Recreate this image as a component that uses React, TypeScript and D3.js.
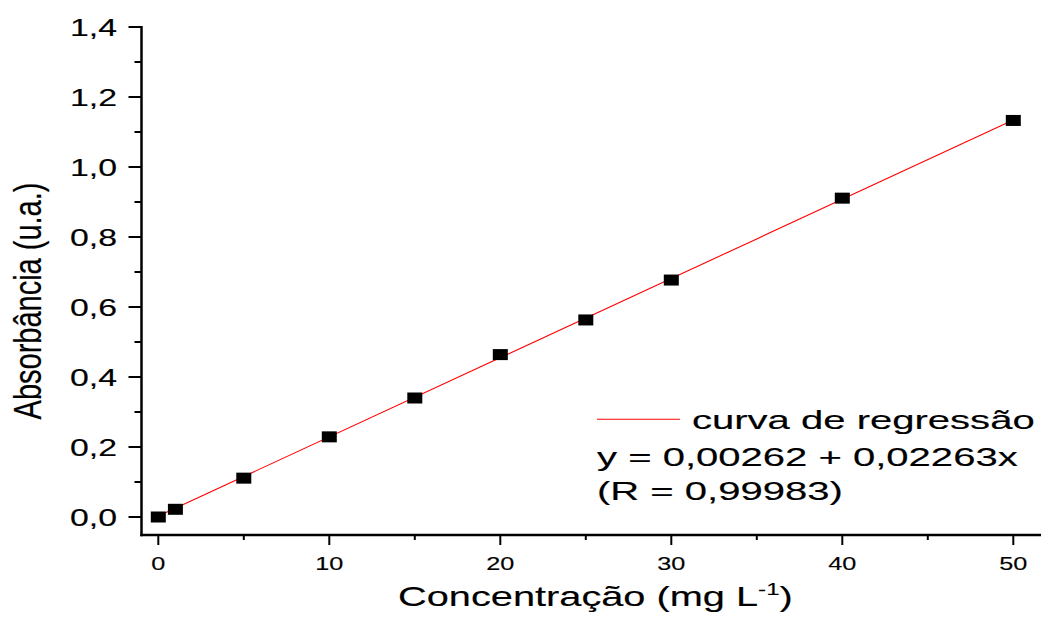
import React from 'react';
import * as d3 from 'd3';

// calibration data
const concentrations = [0, 1, 5, 10, 15, 20, 25, 30, 40, 50];
const absorbances = [0.0, 0.022, 0.111, 0.229, 0.34, 0.464, 0.563, 0.677, 0.911, 1.133];

// regression line end points (y = 0,00262 + 0,02263x)
const fitX = [0, 50];
const fitY = [0.00262, 1.13412];

const legendLines = ['y = 0,00262 + 0,02263x', '(R = 0,99983)'];
const legendLabel = 'curva de regressão';

const width = 1041;
const height = 623;
const font = '"Liberation Sans", Arial, sans-serif';

const axisLeft = 141.5;
const axisBottom = 535;
const axisTop = 27;

const commaFormat = d3.formatLocale({ decimal: ',', thousands: '.', grouping: [3], currency: ['', ''] }).format('.1f');

const x = d3.scaleLinear().domain([0, 50]).range([158.3, 1013.3]);
const y = d3.scaleLinear().domain([0, 1.4]).range([517, 27]);

const App = () => {
	const xMajor = x.ticks(5);
	const xMinor = x.ticks(10).filter((t) => !xMajor.includes(t));
	const yMajor = y.ticks(7);
	const yMinor = y.ticks(14).filter((t) => !yMajor.some((m) => Math.abs(m - t) < 1e-9));

	const line = d3.line<number>()
		.x((d, i) => x(fitX[i]))
		.y((d) => y(d));

	return (
		<svg width={width} height={height}
			style={{ position: 'absolute', left: 0, top: 0, background: '#fff' }}
			fontFamily={font}>

			{/* axes */}
			<g stroke="#000" strokeWidth={2.5}>
				<line x1={axisLeft} y1={axisTop - 1} x2={axisLeft} y2={axisBottom + 1.2} />
				<line x1={axisLeft - 1.2} y1={axisBottom} x2={width} y2={axisBottom} />
			</g>
			<g stroke="#000" strokeWidth={2}>
				{yMajor.map((t) => (
					<line key={`ym${t}`} x1={axisLeft - 13} x2={axisLeft} y1={y(t)} y2={y(t)} />
				))}
				{yMinor.map((t) => (
					<line key={`yn${t}`} x1={axisLeft - 7} x2={axisLeft} y1={y(t)} y2={y(t)} />
				))}
				{xMajor.map((t) => (
					<line key={`xm${t}`} x1={x(t)} x2={x(t)} y1={axisBottom} y2={axisBottom + 10} />
				))}
				{xMinor.map((t) => (
					<line key={`xn${t}`} x1={x(t)} x2={x(t)} y1={axisBottom} y2={axisBottom + 5} />
				))}
			</g>

			<g fill="#000" stroke="#000" strokeWidth={0.15}>
				{/* tick labels */}
				<g fontSize={24} textAnchor="end">
					{yMajor.map((t) => (
						<text key={`yl${t}`} transform={`translate(117,${y(t) + 8.5}) scale(1.41,1)`}>
							{commaFormat(t)}
						</text>
					))}
				</g>
				<g fontSize={19} textAnchor="middle">
					{xMajor.map((t) => (
						<text key={`xl${t}`} transform={`translate(${x(t)},570) scale(1.33,1)`}>
							{t}
						</text>
					))}
				</g>

				{/* axis titles */}
				<text fontSize={28} transform="translate(398,606) scale(1.42,1)">
					Concentração (mg L<tspan fontSize={17} dy={-11}>-1</tspan><tspan dy={11}>)</tspan>
				</text>
				<text fontSize={29} textAnchor="middle" transform="translate(41,301) scale(1.35,1) rotate(-90)">
					Absorbância (u.a.)
				</text>

				{/* legend text */}
				<g fontSize={26}>
					<text transform="translate(692,428.5) scale(1.54,1)">{legendLabel}</text>
					{legendLines.map((l, i) => (
						<text key={l} transform={`translate(597,${466 + i * 34}) scale(1.54,1)`}>{l}</text>
					))}
				</g>
			</g>

			{/* regression line */}
			<path d={line(fitY) || ''} fill="none" stroke="#ff0000" strokeWidth={1.1} />
			<line x1={597} x2={680} y1={419.3} y2={419.3} stroke="#ff0000" strokeWidth={1.1} />

			{/* points */}
			<g fill="#000">
				{concentrations.map((c, i) => (
					<rect key={c} x={x(c) - 7.5} y={y(absorbances[i]) - 5.5} width={15} height={11} />
				))}
			</g>
		</svg>
	);
};

export default App;
